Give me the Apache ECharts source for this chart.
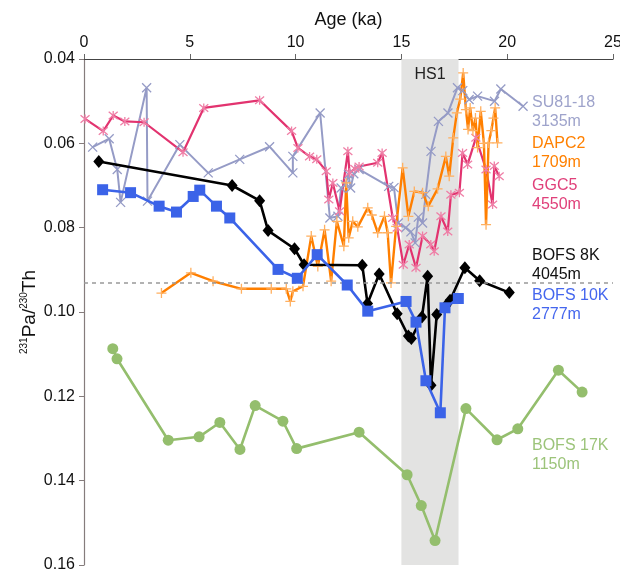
<!DOCTYPE html>
<html><head><meta charset="utf-8">
<script src="https://cdn.jsdelivr.net/npm/echarts@6/dist/echarts.min.js"></script>
<style>html,body{margin:0;padding:0;background:#fff}#c{width:620px;height:575px}</style>
</head><body><div id="c"></div>
<script>
// ---- data: [age (ka), 231Pa/230Th] ----
const su8118 = [[0.41,0.0609],[1.19,0.0589],[1.57,0.0662],[1.73,0.0740],[2.96,0.0468],[3.0,0.0737],[4.53,0.0603],[5.87,0.0670],[7.36,0.0638],[8.77,0.0608],[9.87,0.0670],[9.87,0.0631],[11.16,0.0528],[11.62,0.0777],[12.0,0.0773],[12.15,0.0706],[12.35,0.0698],[12.5,0.0674],[12.6,0.0706],[12.75,0.0672],[13.0,0.0662],[14.4,0.0702],[14.65,0.0705],[14.85,0.0789],[15.2,0.0800],[15.45,0.0810],[15.65,0.0836],[15.8,0.0775],[16.0,0.0789],[16.15,0.0721],[16.4,0.0619],[16.75,0.0548],[17.2,0.0528],[17.65,0.0468],[17.9,0.0475],[18.2,0.0496],[18.6,0.0488],[19.4,0.0500],[19.7,0.0471],[20.75,0.0512]];
const ggc5 = [[0.05,0.0542],[0.91,0.0571],[1.38,0.0534],[1.93,0.0548],[2.84,0.0550],[4.68,0.0621],[5.66,0.0516],[8.3,0.0498],[9.81,0.0571],[10.11,0.0611],[10.66,0.0631],[11.0,0.0638],[11.45,0.0666],[11.57,0.0733],[11.76,0.0694],[12.08,0.0761],[12.47,0.0619],[12.55,0.0670],[12.8,0.0660],[13.0,0.0655],[13.88,0.0646],[14.09,0.0623],[14.59,0.0777],[14.8,0.0800],[15.09,0.0888],[15.37,0.0840],[15.69,0.0895],[16.0,0.0820],[16.39,0.0840],[16.55,0.0856],[16.87,0.0773],[17.19,0.0809],[17.34,0.0722],[17.74,0.0717],[17.89,0.0623],[18.13,0.0650],[18.52,0.0587],[19.0,0.0662],[19.31,0.0745],[19.39,0.0654],[19.62,0.0678]];
const dapc2 = [[3.66,0.0955],[5.05,0.0907],[6.1,0.0927],[7.44,0.0945],[8.85,0.0945],[9.56,0.0945],[9.75,0.0975],[9.87,0.0951],[10.35,0.0939],[10.74,0.0820],[11.05,0.0892],[11.37,0.0805],[11.68,0.0927],[11.95,0.0785],[12.28,0.0844],[12.39,0.0694],[12.51,0.0824],[12.7,0.0785],[12.94,0.0798],[13.41,0.0753],[13.6,0.0770],[13.88,0.0812],[14.2,0.0773],[14.35,0.0812],[14.51,0.0931],[14.75,0.0797],[15.06,0.0658],[15.33,0.0773],[15.61,0.0714],[16.0,0.0717],[16.27,0.0749],[16.71,0.0708],[17.1,0.0631],[17.26,0.0678],[17.45,0.0587],[17.62,0.0528],[17.78,0.0495],[17.92,0.0433],[18.05,0.0520],[18.15,0.0567],[18.25,0.0516],[18.38,0.0570],[18.5,0.0540],[18.6,0.0610],[18.75,0.0524],[18.9,0.0600],[19.0,0.0793],[19.12,0.0599],[19.25,0.0570],[19.35,0.0540],[19.43,0.0516],[19.54,0.0599]];
const bofs8k = [[0.7,0.0643],[7.0,0.0700],[8.3,0.0736],[8.7,0.0807],[9.95,0.0850],[10.4,0.0888],[13.15,0.0889],[13.4,0.0980],[13.95,0.0910],[14.8,0.1004],[15.33,0.1057],[15.47,0.1063],[15.97,0.1012],[16.24,0.0915],[16.4,0.1174],[16.67,0.1006],[17.1,0.0985],[17.3,0.0972],[18.0,0.0895],[18.7,0.0926],[20.1,0.0954]];
const bofs10k = [[0.88,0.0710],[2.2,0.0717],[3.55,0.0749],[4.37,0.0763],[5.16,0.0726],[5.47,0.0711],[6.26,0.0749],[6.89,0.0777],[9.17,0.0899],[10.08,0.0920],[11.02,0.0864],[12.44,0.0936],[13.41,0.0998],[15.22,0.0975],[15.69,0.1024],[16.16,0.1163],[16.84,0.1239],[17.06,0.0990],[17.69,0.0968]];
const bofs17k = [[1.36,0.1087],[1.56,0.1111],[3.98,0.1304],[5.44,0.1296],[6.42,0.1262],[7.37,0.1326],[8.09,0.1222],[9.40,0.1259],[10.05,0.1324],[13.0,0.1285],[15.27,0.1386],[15.94,0.1459],[16.59,0.1542],[18.05,0.1229],[19.52,0.1303],[20.5,0.1277],[22.42,0.1138],[23.54,0.1190]];
const hs1 = [15, 17.7];
const refLine = 0.093;
const xTicks = [0, 25, 5];
const yTicks = [0.04, 0.16, 0.02];

const FONT = 'Liberation Sans, Arial, sans-serif';
const chart = echarts.init(document.getElementById('c'), null, {renderer:'canvas'});
const X_SYM = 'path://M0,0L10,10M10,0L0,10';
const STAR_SYM = 'path://M0,0L10,10M10,0L0,10M5,-1L5,11';
const PLUS_SYM = 'path://M5,0L5,10M0,5L10,5';
function strokeSeries(name, data, line, mark, sym, size, w){
  return {name, type:'line', data, z:3, symbol:sym, symbolSize:size,
    lineStyle:{color:line, width:w}, itemStyle:{color:'rgba(0,0,0,0)', borderColor:mark, borderWidth:1.3},
    emphasis:{disabled:true}};
}
const labels = [
  ['SU81-18\n3135m', '#9ea3cb', 102],
  ['DAPC2\n1709m', '#ff8000', 143],
  ['GGC5\n4550m', '#e0407a', 185],
  ['BOFS 8K\n4045m', '#111111', 255],
  ['BOFS 10K\n2777m', '#4466ee', 295],
  ['BOFS 17K\n1150m', '#9cc47a', 445]
];
chart.setOption({
  animation:false,
  grid:{left:84, right:7, top:59, bottom:10, outerBoundsMode:'none'},
  xAxis:{type:'value', position:'top', min:xTicks[0], max:xTicks[1], interval:xTicks[2],
    name:'Age (ka)', nameLocation:'middle', nameGap:30,
    nameTextStyle:{fontSize:18, color:'#111', fontFamily:FONT},
    axisLine:{lineStyle:{color:'#444', width:1.2}},
    axisTick:{show:true, inside:false, length:5, lineStyle:{color:'#666'}},
    axisLabel:{fontSize:16, color:'#111', fontFamily:FONT, margin:8},
    splitLine:{show:false}},
  yAxis:{type:'value', inverse:true, min:yTicks[0], max:yTicks[1], interval:yTicks[2],
    axisLine:{show:true, lineStyle:{color:'#857c7c', width:1.2}},
    axisTick:{show:true, length:5, lineStyle:{color:'#857c7c'}},
    axisLabel:{fontSize:16, color:'#111', fontFamily:FONT, margin:9, formatter:v=>v.toFixed(2)},
    splitLine:{show:false}},
  graphic:[
    {type:'text', x:29, y:312, rotation:Math.PI/2, z:10,
     style:{text:'{s|231}{m|Pa/}{s|230}{m|Th}', align:'center', verticalAlign:'middle',
       rich:{s:{fontSize:10, fontFamily:FONT, fill:'#111', verticalAlign:'top', lineHeight:20},
             m:{fontSize:19, fontFamily:FONT, fill:'#111', verticalAlign:'bottom', lineHeight:20}}}}
  ].concat(labels.map(l=>({type:'text', left:532, top:l[2]-9, z:10,
     style:{text:l[0], fill:l[1], fontSize:16, fontFamily:FONT, lineHeight:19}}))),
  series:[
    {type:'line', data:[], z:1, silent:true,
     markArea:{silent:true, itemStyle:{color:'#e3e3e2'},
       label:{show:true, position:'insideTop', distance:8, formatter:'HS1', fontSize:16, color:'#222', fontFamily:FONT},
       data:[[{xAxis:hs1[0]},{xAxis:hs1[1]}]]},
     markLine:{silent:true, symbol:'none', precision:4, label:{show:false},
       lineStyle:{color:'#999', type:[4,4], width:1.6}, data:[{yAxis:refLine}]}},
    {name:'BOFS 17K', type:'line', data:bofs17k, z:3, symbol:'circle', symbolSize:11,
     lineStyle:{color:'#94be6d', width:2.6}, itemStyle:{color:'#94be6d'}},
    strokeSeries('SU81-18', su8118, '#959bc6', '#959bc6', X_SYM, 9, 2),
    strokeSeries('GGC5', ggc5, '#e2336f', '#ef7ea6', STAR_SYM, 9, 2.2),
    strokeSeries('DAPC2', dapc2, '#ff7f00', '#ffb060', PLUS_SYM, 10, 2.4),
    {name:'BOFS 8K', type:'line', data:bofs8k, z:4, symbol:'diamond', symbolSize:[11,13],
     lineStyle:{color:'#000', width:2.6}, itemStyle:{color:'#000'}},
    {name:'BOFS 10K', type:'line', data:bofs10k, z:5, symbol:'rect', symbolSize:11,
     lineStyle:{color:'#3b63e8', width:2.6}, itemStyle:{color:'#3b63e8'}}
  ]
});
</script></body></html>
